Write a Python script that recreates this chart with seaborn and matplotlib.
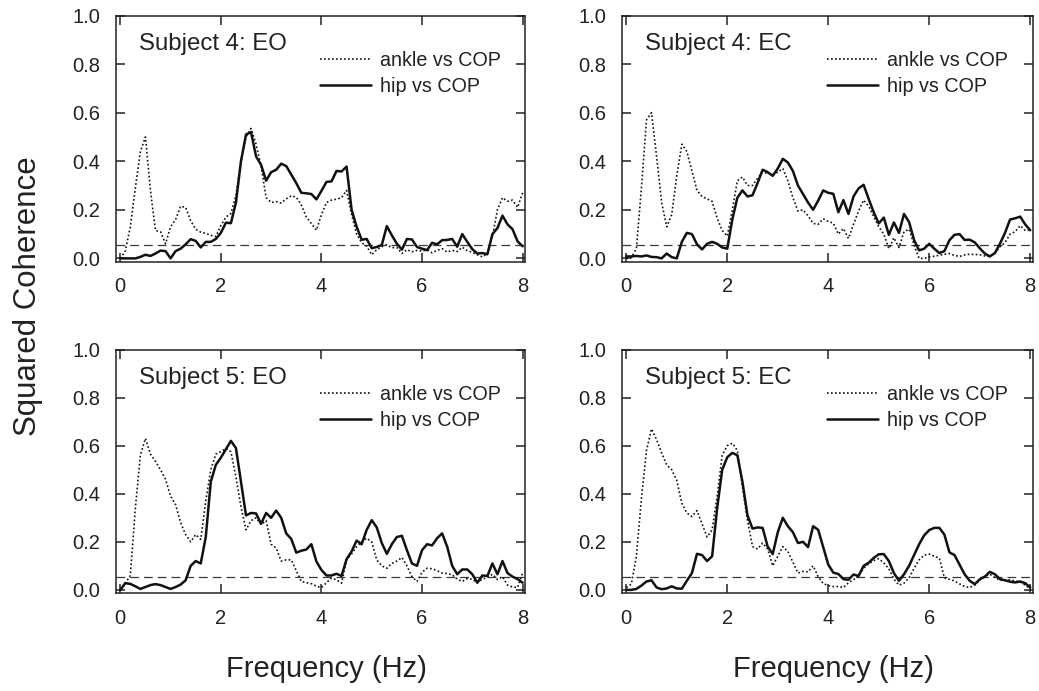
import numpy as np
import pandas as pd
import seaborn as sns
import matplotlib.pyplot as plt

# frequency grid (Hz), 0.1 Hz resolution
freq = np.linspace(0, 8, 81)

# Subject 4, eyes open
s4_eo_ankle = [0.0, 0.03, 0.13, 0.29, 0.44, 0.50, 0.28, 0.115, 0.11, 0.06,
               0.13, 0.16, 0.215, 0.21, 0.155, 0.12, 0.108, 0.103, 0.095, 0.09,
               0.135, 0.17, 0.185, 0.26, 0.40, 0.50, 0.535, 0.47, 0.38, 0.25,
               0.23, 0.234, 0.228, 0.245, 0.258, 0.252, 0.22, 0.17, 0.144, 0.116,
               0.18, 0.23, 0.24, 0.244, 0.25, 0.28, 0.18, 0.10, 0.065, 0.05,
               0.015, 0.036, 0.048, 0.056, 0.044, 0.045, 0.02, 0.036, 0.027, 0.033,
               0.03, 0.035, 0.023, 0.033, 0.04, 0.026, 0.033, 0.028, 0.046, 0.032,
               0.025, 0.015, 0.006, 0.02, 0.09, 0.20, 0.25, 0.235, 0.24, 0.21,
               0.27]
s4_eo_hip = [0.0, 0.0, 0.0, 0.0, 0.006, 0.015, 0.01, 0.02, 0.032, 0.03,
             0.0, 0.03, 0.04, 0.058, 0.079, 0.072, 0.045, 0.068, 0.068, 0.08,
             0.105, 0.147, 0.145, 0.23, 0.40, 0.51, 0.52, 0.42, 0.385, 0.32,
             0.355, 0.365, 0.39, 0.38, 0.345, 0.31, 0.27, 0.268, 0.265, 0.243,
             0.278, 0.315, 0.317, 0.36, 0.358, 0.378, 0.20, 0.13, 0.077, 0.08,
             0.042, 0.047, 0.055, 0.133, 0.095, 0.06, 0.036, 0.08, 0.078, 0.047,
             0.04, 0.034, 0.064, 0.058, 0.075, 0.076, 0.08, 0.048, 0.10, 0.068,
             0.038, 0.02, 0.022, 0.017, 0.10, 0.125, 0.176, 0.14, 0.12, 0.07,
             0.05]

# Subject 4, eyes closed
s4_ec_ankle = [0.0, 0.003, 0.04, 0.29, 0.57, 0.60, 0.42, 0.23, 0.13, 0.18,
               0.34, 0.47, 0.44, 0.36, 0.28, 0.255, 0.245, 0.235, 0.165, 0.115,
               0.092, 0.20, 0.32, 0.335, 0.30, 0.30, 0.33, 0.355, 0.35, 0.344,
               0.355, 0.37, 0.32, 0.25, 0.195, 0.20, 0.175, 0.144, 0.14, 0.163,
               0.152, 0.145, 0.10, 0.123, 0.082, 0.14, 0.195, 0.24, 0.215, 0.172,
               0.13, 0.10, 0.04, 0.085, 0.045, 0.11, 0.12, 0.055, 0.0, 0.0,
               0.006, 0.009, 0.013, 0.017, 0.02, 0.012, 0.008, 0.014, 0.017, 0.016,
               0.015, 0.01, 0.008, 0.02, 0.048, 0.065, 0.10, 0.11, 0.135, 0.115,
               0.116]
s4_ec_hip = [0.008, 0.008, 0.01, 0.008, 0.012, 0.006, 0.005, 0.0, 0.02, 0.005,
             0.0, 0.068, 0.105, 0.10, 0.058, 0.037, 0.06, 0.068, 0.06, 0.045,
             0.04, 0.16, 0.25, 0.28, 0.255, 0.26, 0.31, 0.365, 0.355, 0.34,
             0.37, 0.41, 0.395, 0.36, 0.30, 0.265, 0.23, 0.20, 0.238, 0.28,
             0.27, 0.266, 0.19, 0.24, 0.183, 0.255, 0.288, 0.303, 0.245, 0.19,
             0.144, 0.168, 0.097, 0.148, 0.105, 0.183, 0.15, 0.075, 0.033, 0.04,
             0.06, 0.04, 0.022, 0.03, 0.075, 0.097, 0.10, 0.076, 0.077, 0.066,
             0.042, 0.02, 0.008, 0.022, 0.06, 0.105, 0.16, 0.165, 0.172, 0.14,
             0.116]

# Subject 5, eyes open
s5_eo_ankle = [0.0, 0.028, 0.06, 0.34, 0.56, 0.63, 0.565, 0.535, 0.50, 0.46,
               0.39, 0.355, 0.28, 0.23, 0.20, 0.23, 0.21, 0.37, 0.50, 0.565,
               0.575, 0.588, 0.575, 0.47, 0.345, 0.25, 0.288, 0.30, 0.272, 0.288,
               0.19, 0.174, 0.12, 0.125, 0.125, 0.08, 0.035, 0.03, 0.026, 0.015,
               0.01, 0.03, 0.049, 0.042, 0.028, 0.125, 0.15, 0.18, 0.20, 0.215,
               0.20, 0.125, 0.10, 0.09, 0.11, 0.12, 0.135, 0.10, 0.055, 0.035,
               0.073, 0.09, 0.088, 0.08, 0.07, 0.068, 0.063, 0.045, 0.035, 0.047,
               0.045, 0.03, 0.045, 0.052, 0.065, 0.043, 0.055, 0.02, 0.012, 0.01,
               0.07]
s5_eo_hip = [0.0, 0.028, 0.025, 0.015, 0.004, 0.012, 0.02, 0.024, 0.02, 0.012,
             0.004, 0.012, 0.022, 0.04, 0.10, 0.12, 0.11, 0.22, 0.45, 0.52,
             0.55, 0.585, 0.62, 0.59, 0.45, 0.31, 0.32, 0.318, 0.275, 0.32,
             0.30, 0.33, 0.30, 0.235, 0.212, 0.155, 0.163, 0.168, 0.19, 0.118,
             0.083, 0.06, 0.06, 0.067, 0.058, 0.128, 0.16, 0.205, 0.19, 0.25,
             0.29, 0.26, 0.195, 0.15, 0.19, 0.22, 0.225, 0.165, 0.11, 0.10,
             0.165, 0.19, 0.185, 0.215, 0.235, 0.18, 0.10, 0.065, 0.085, 0.085,
             0.065, 0.03, 0.06, 0.058, 0.11, 0.065, 0.12, 0.07, 0.055, 0.045,
             0.03]

# Subject 5, eyes closed
s5_ec_ankle = [0.01, 0.024, 0.14, 0.38, 0.58, 0.67, 0.625, 0.57, 0.52, 0.50,
               0.455, 0.36, 0.32, 0.305, 0.33, 0.275, 0.22, 0.25, 0.39, 0.56,
               0.60, 0.61, 0.58, 0.43, 0.29, 0.18, 0.17, 0.195, 0.17, 0.10,
               0.14, 0.18, 0.16, 0.115, 0.07, 0.077, 0.075, 0.10, 0.055, 0.026,
               0.018, 0.014, 0.014, 0.01, 0.03, 0.042, 0.06, 0.09, 0.108, 0.122,
               0.13, 0.112, 0.088, 0.045, 0.02, 0.028, 0.05, 0.09, 0.125, 0.145,
               0.149, 0.14, 0.132, 0.05, 0.044, 0.037, 0.025, 0.014, 0.01, 0.02,
               0.04, 0.058, 0.065, 0.051, 0.04, 0.04, 0.042, 0.037, 0.034, 0.02,
               0.005]
s5_ec_hip = [0.0, 0.0, 0.004, 0.018, 0.035, 0.04, 0.01, 0.003, 0.006, 0.015,
             0.006, 0.005, 0.038, 0.07, 0.15, 0.145, 0.12, 0.14, 0.34, 0.50,
             0.552, 0.57, 0.56, 0.45, 0.31, 0.255, 0.26, 0.258, 0.18, 0.149,
             0.24, 0.30, 0.265, 0.24, 0.195, 0.20, 0.178, 0.265, 0.25, 0.178,
             0.105, 0.072, 0.066, 0.045, 0.042, 0.064, 0.058, 0.10, 0.113, 0.133,
             0.148, 0.149, 0.12, 0.07, 0.038, 0.065, 0.10, 0.145, 0.19, 0.227,
             0.249, 0.258, 0.258, 0.23, 0.156, 0.145, 0.105, 0.065, 0.038, 0.024,
             0.044, 0.055, 0.075, 0.065, 0.045, 0.04, 0.034, 0.031, 0.035, 0.028,
             0.01]

titles = ["Subject 4: EO", "Subject 4: EC", "Subject 5: EO", "Subject 5: EC"]
ankle_data = [s4_eo_ankle, s4_ec_ankle, s5_eo_ankle, s5_ec_ankle]
hip_data = [s4_eo_hip, s4_ec_hip, s5_eo_hip, s5_ec_hip]
threshold = 0.055  # significance level (dashed)

sns.set_theme(style="ticks")
plt.rcParams['font.family'] = ['Liberation Sans', 'DejaVu Sans']
ink = '#222222'
plt.rcParams.update({
    'axes.edgecolor': ink, 'axes.linewidth': 1.1,
    'xtick.color': ink, 'ytick.color': ink,
    'xtick.labelcolor': ink, 'ytick.labelcolor': ink,
    'xtick.direction': 'in', 'ytick.direction': 'in',
    'xtick.top': True, 'ytick.right': True,
    'xtick.major.size': 6.5, 'ytick.major.size': 6.5,
    'xtick.major.width': 1.1, 'ytick.major.width': 1.1,
    'xtick.major.pad': 11, 'ytick.major.pad': 11,
    'xtick.labelsize': 14.5, 'ytick.labelsize': 14.5,
    'text.color': ink,
})

fig = plt.figure(figsize=(10.39, 6.91), dpi=100)
positions = [[0.1114, 0.6208, 0.394, 0.3567],
             [0.5984, 0.6208, 0.3956, 0.3567],
             [0.1114, 0.1411, 0.394, 0.3531],
             [0.5984, 0.1411, 0.3956, 0.3531]]

for pos, title, ankle, hip in zip(positions, titles, ankle_data, hip_data):
    ax = fig.add_axes(pos)
    df = pd.DataFrame({'Frequency': freq, 'ankle': ankle, 'hip': hip})
    ax.axhline(threshold, color='#3a3a3a', lw=0.9, ls=(0, (7, 4)))
    sns.lineplot(data=df, x='Frequency', y='ankle', ax=ax, color='#111111',
                 lw=1.2, linestyle=(0, (1, 1.4)), label='ankle vs COP')
    sns.lineplot(data=df, x='Frequency', y='hip', ax=ax, color='#111111',
                 lw=1.8, label='hip vs COP')
    ax.set_xlim(-0.09, 8.05)
    ax.set_ylim(-0.015, 1.0)
    ax.set_xticks([0, 2, 4, 6, 8])
    ax.set_yticks([0.0, 0.2, 0.4, 0.6, 0.8, 1.0])
    ax.set_yticklabels(['0.0', '0.2', '0.4', '0.6', '0.8', '1.0'])
    ax.tick_params(top=True, right=True, labeltop=False, labelright=False)
    ax.set_xlabel('')
    ax.set_ylabel('')
    ax.text(0.056, 0.883, title, transform=ax.transAxes, fontsize=17.3,
            va='center', ha='left')
    ax.legend(loc='upper left', bbox_to_anchor=(0.499, 0.855), frameon=False,
              fontsize=14.2, handlelength=2.6, handletextpad=0.45,
              labelspacing=0.35, borderpad=0, borderaxespad=0)

fig.text(0.3142, 0.032, 'Frequency (Hz)', fontsize=21, ha='center', va='center')
fig.text(0.8017, 0.032, 'Frequency (Hz)', fontsize=21, ha='center', va='center')
fig.text(0.027, 0.572, 'Squared Coherence', fontsize=22.5, rotation=90,
         ha='center', va='center')

fig.savefig('out.png', dpi=100)
